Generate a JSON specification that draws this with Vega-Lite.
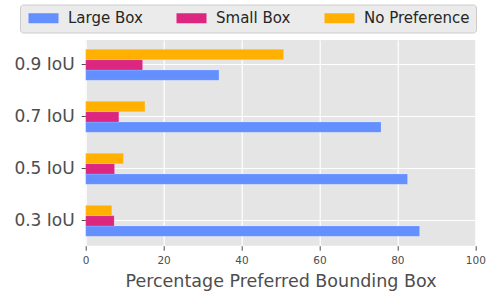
{
  "$schema": "https://vega.github.io/schema/vega-lite/v6.json",
  "autosize": "none",
  "padding": {"left": 85.7, "top": 40, "right": 15.7, "bottom": 46.3},
  "width": 389.6,
  "height": 205.7,
  "background": "white",
  "data": {
    "values": [
      {"iou": "0.9 IoU", "pref": "Large Box", "pct": 34.2},
      {"iou": "0.9 IoU", "pref": "Small Box", "pct": 14.6},
      {"iou": "0.9 IoU", "pref": "No Preference", "pct": 50.8},
      {"iou": "0.7 IoU", "pref": "Large Box", "pct": 75.8},
      {"iou": "0.7 IoU", "pref": "Small Box", "pct": 8.5},
      {"iou": "0.7 IoU", "pref": "No Preference", "pct": 15.2},
      {"iou": "0.5 IoU", "pref": "Large Box", "pct": 82.6},
      {"iou": "0.5 IoU", "pref": "Small Box", "pct": 7.4},
      {"iou": "0.5 IoU", "pref": "No Preference", "pct": 9.7},
      {"iou": "0.3 IoU", "pref": "Large Box", "pct": 85.7},
      {"iou": "0.3 IoU", "pref": "Small Box", "pct": 7.3},
      {"iou": "0.3 IoU", "pref": "No Preference", "pct": 6.7}
    ]
  },
  "mark": {"type": "bar", "opacity": 1, "stroke": "white", "strokeOpacity": 0.25, "strokeWidth": 0.6},
  "encoding": {
    "x": {
      "field": "pct", "type": "quantitative",
      "scale": {"domain": [0, 100], "nice": false},
      "axis": {
        "title": "Percentage Preferred Bounding Box",
        "values": [0, 20, 40, 60, 80, 100],
        "titleFont": "DejaVu Sans", "titleFontSize": 17.5, "titleFontWeight": "normal", "titleColor": "#4d4d4d",
        "titlePadding": 7,
        "labelFont": "DejaVu Sans", "labelFontSize": 10.5, "labelColor": "#4d4d4d",
        "labelPadding": 5, "labelFlush": false,
        "tickSize": 4.5, "tickColor": "#4d4d4d", "tickWidth": 1,
        "domain": false,
        "grid": true, "gridColor": "white", "gridWidth": 1.2
      }
    },
    "y": {
      "field": "iou", "type": "nominal",
      "sort": ["0.9 IoU", "0.7 IoU", "0.5 IoU", "0.3 IoU"],
      "scale": {"paddingInner": 0.404, "paddingOuter": 0.18},
      "axis": {
        "title": null,
        "labelFont": "DejaVu Sans", "labelFontSize": 17, "labelColor": "#4d4d4d",
        "labelPadding": 7,
        "tickSize": 4.5, "tickColor": "#4d4d4d", "tickWidth": 1,
        "domain": false,
        "grid": true, "gridColor": "white", "gridWidth": 1.2,
        "bandPosition": 0.5
      }
    },
    "yOffset": {
      "field": "pref", "type": "nominal",
      "sort": ["No Preference", "Small Box", "Large Box"]
    },
    "color": {
      "field": "pref", "type": "nominal",
      "sort": ["Large Box", "Small Box", "No Preference"],
      "scale": {"domain": ["Large Box", "Small Box", "No Preference"], "range": ["#648FFF", "#DC267F", "#FFB000"]},
      "legend": {
        "title": null,
        "orient": "none",
        "direction": "horizontal",
        "legendX": -65.7,
        "legendY": -35.5,
        "fillColor": "#ebebeb",
        "strokeColor": "#cccccc",
        "cornerRadius": 3,
        "padding": 6,
        "symbolType": "M-3,-1L3,-1L3,1L-3,1Z",
        "symbolSize": 100,
        "symbolOffset": 10,
        "symbolStrokeWidth": 0,
        "symbolOpacity": 1,
        "labelFont": "DejaVu Sans",
        "labelFontSize": 15,
        "labelColor": "#262626",
        "labelOffset": 17,
        "columnPadding": 31
      }
    }
  },
  "config": {
    "view": {"fill": "#e5e5e5", "stroke": null},
    "axis": {"gridOpacity": 1}
  }
}
